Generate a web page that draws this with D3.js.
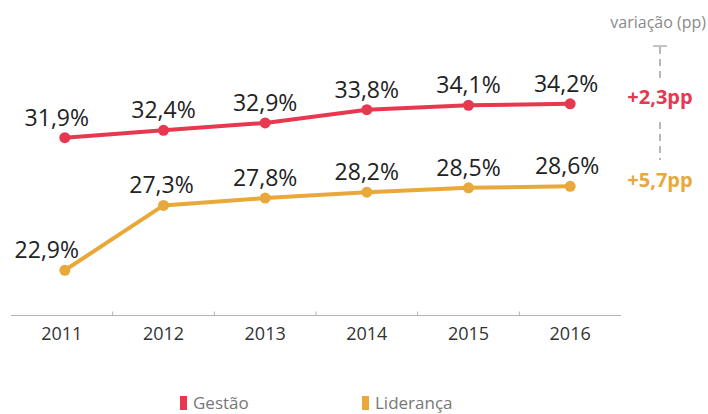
<!DOCTYPE html>
<html><head><meta charset="utf-8">
<script src="https://cdn.jsdelivr.net/npm/d3@7"></script>
<style>body{margin:0;background:#fff}svg{display:block}text{font-family:"Open Sans",sans-serif}</style>
</head><body><svg id="c" width="708" height="414"></svg>
<script>
const years = ["2011","2012","2013","2014","2015","2016"];
const gestao = [31.9,32.4,32.9,33.8,34.1,34.2];
const lideranca = [22.9,27.3,27.8,28.2,28.5,28.6];
const seriesNames = ["Gestão","Liderança"];
const variation = ["+2,3pp","+5,7pp"];
const colors = ["#E8384F","#E9A83A"];

const svg = d3.select("#c");
const x = d3.scaleBand().domain(years).range([11,621]);
const y = d3.scaleLinear().domain([20,35]).range([313,92]);
const cx = d => x(d) + x.bandwidth()/2 + (d==="2011"?3:0);

// axis
const ax = svg.append("g").attr("transform","translate(0,315.5)");
ax.append("line").attr("x1",11).attr("x2",621).attr("stroke","#b3b3b3").attr("stroke-width",1.2);
ax.selectAll("line.t").data(years.slice(1)).join("line").attr("class","t")
  .attr("x1",d=>x(d)).attr("x2",d=>x(d)).attr("y1",0).attr("y2",-4).attr("stroke","#b3b3b3");
ax.selectAll("text").data(years).join("text").attr("x",d=>x(d)+x.bandwidth()/2).attr("y",24.5)
  .attr("text-anchor","middle").attr("font-size",18).attr("fill","#333").text(d=>d);

const fmt = v => d3.format(".1f")(v).replace(".",",")+"%";
const line = d3.line().x((d,i)=>cx(years[i])).y(d=>y(d));
const labelDx = [[-8,0,0,0,0,-4],[-18,-2,0,0,0,-3]];
[gestao,lideranca].forEach((s,k)=>{
  svg.append("path").datum(s).attr("d",line).attr("fill","none").attr("stroke",colors[k]).attr("stroke-width",4);
  svg.selectAll(null).data(s).join("circle").attr("cx",(d,i)=>cx(years[i])).attr("cy",d=>y(d)).attr("r",5.5).attr("fill",colors[k]);
  svg.selectAll(null).data(s).join("text").attr("x",(d,i)=>cx(years[i])+labelDx[k][i]).attr("y",d=>y(d)-12)
    .attr("text-anchor","middle").attr("font-size",23).attr("fill","#222").text(fmt);
});

// variation annotation
svg.append("text").attr("x",706).attr("y",28).attr("text-anchor","end").attr("font-size",16).attr("fill","#8a8a8a").text("variação (pp)");
svg.append("line").attr("x1",653).attr("x2",667).attr("y1",46).attr("y2",46).attr("stroke","#888");
svg.append("line").attr("x1",660).attr("x2",660).attr("y1",47).attr("y2",80).attr("stroke","#888").attr("stroke-width",1.2).attr("stroke-dasharray","7,5");
svg.append("line").attr("x1",660).attr("x2",660).attr("y1",122).attr("y2",160).attr("stroke","#888").attr("stroke-width",1.2).attr("stroke-dasharray","7,5");
[gestao,lideranca].forEach((s,k)=>{
  svg.append("text").attr("x",660).attr("y",[104,187][k]).attr("text-anchor","middle").attr("font-size",20)
    .attr("font-weight","bold").attr("fill",colors[k]).text(variation[k]);
});

// legend
const lx = [180,362];
seriesNames.forEach((n,k)=>{
  svg.append("rect").attr("x",lx[k]).attr("y",396).attr("width",7).attr("height",14).attr("fill",colors[k]);
  svg.append("text").attr("x",lx[k]+13).attr("y",409).attr("font-size",17).attr("fill","#777").text(n);
});
</script></body></html>
